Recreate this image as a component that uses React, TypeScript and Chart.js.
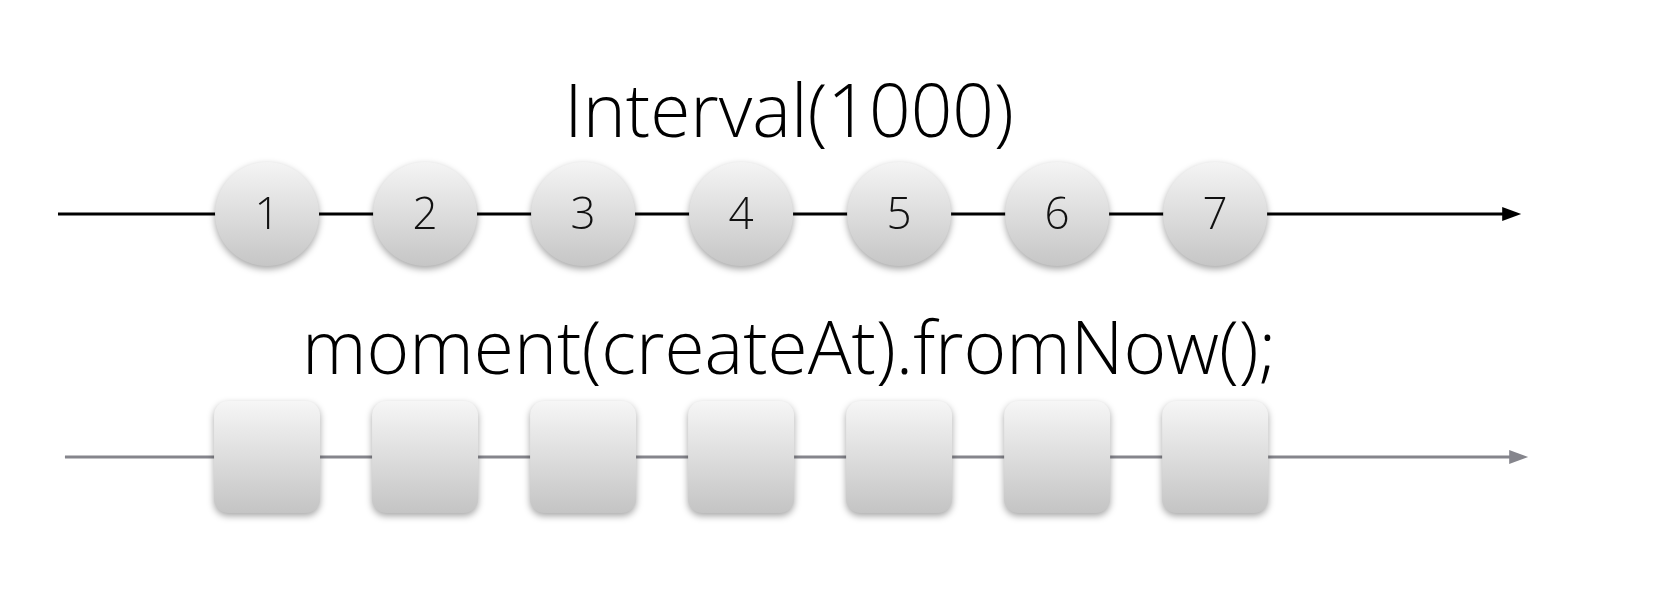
import React, { useEffect, useRef } from "react";
import { Chart, registerables } from "chart.js";
Chart.register(...registerables);

const marbleTimes = [1, 2, 3, 4, 5, 6, 7];
const marbleLabels = ["1", "2", "3", "4", "5", "6", "7"];
const rowTitles = ["Interval(1000)", "moment(createAt).fromNow();"];
const rows = [0, 1];

const X_MIN = -0.69, X_MAX = 9.79, Y_MIN = -0.881, Y_MAX = 1.646;
const lineExt = [[-0.323, 8.937], [-0.279, 8.981]];
const lineColors = ["#000000", "#85858c"];

const marblePlugin = {
  id: "marbles",
  afterDatasetsDraw(chart: any) {
    const ctx = chart.ctx;
    const xs = chart.scales.x, ys = chart.scales.y;
    rows.forEach((r) => {
      const y = ys.getPixelForValue(r);
      const x0 = xs.getPixelForValue(lineExt[r][0]);
      const x1 = xs.getPixelForValue(lineExt[r][1]);
      ctx.save();
      ctx.strokeStyle = lineColors[r];
      ctx.fillStyle = lineColors[r];
      ctx.lineWidth = 3;
      ctx.beginPath(); ctx.moveTo(x0, y); ctx.lineTo(x1 - 16, y); ctx.stroke();
      ctx.beginPath(); ctx.moveTo(x1, y); ctx.lineTo(x1 - 19, y - 7); ctx.lineTo(x1 - 19, y + 7); ctx.closePath(); ctx.fill();
      const cx = xs.getPixelForValue((marbleTimes[0] + marbleTimes[marbleTimes.length - 1]) / 2);
      ctx.fillStyle = "#000";
      ctx.font = "300 73px 'Open Sans', 'Liberation Sans', sans-serif";
      ctx.textAlign = "center"; ctx.textBaseline = "middle";
      ctx.fillText(rowTitles[r], cx + 48, y - (r === 0 ? 98 : 104));
      marbleTimes.forEach((t, i) => {
        const px = xs.getPixelForValue(t);
        ctx.save();
        ctx.shadowColor = "rgba(0,0,0,0.35)";
        ctx.shadowBlur = 7; ctx.shadowOffsetY = 3;
        const g = ctx.createLinearGradient(0, y - 56, 0, y + 56);
        g.addColorStop(0, "#f6f6f6"); g.addColorStop(1, "#c4c4c4");
        ctx.fillStyle = g;
        ctx.beginPath();
        if (r === 0) {
          ctx.arc(px, y, 52, 0, Math.PI * 2);
        } else {
          const w = 106, h = 112, rr = 14;
          (ctx as any).roundRect(px - w / 2, y - h / 2, w, h, rr);
        }
        ctx.fill();
        ctx.restore();
        if (r === 0) {
          ctx.fillStyle = "#111";
          ctx.font = "300 44px 'Open Sans', 'Liberation Sans', sans-serif";
          ctx.textAlign = "center"; ctx.textBaseline = "middle";
          ctx.fillText(marbleLabels[i], px, y + 2);
        }
      });
      ctx.restore();
    });
  },
};

export default function App() {
  const ref = useRef<HTMLCanvasElement>(null);
  useEffect(() => {
    const chart = new Chart(ref.current!, {
      type: "scatter",
      data: {
        datasets: rows.map((r) => ({
          data: marbleTimes.map((t) => ({ x: t, y: r })),
          pointRadius: 0,
          showLine: false,
        })),
      },
      options: {
        animation: false,
        responsive: false,
        layout: { padding: 0 },
        plugins: { legend: { display: false }, tooltip: { enabled: false } },
        scales: {
          x: { type: "linear", min: X_MIN, max: X_MAX, display: false },
          y: { type: "linear", min: Y_MIN, max: Y_MAX, reverse: true, display: false },
        },
      },
      plugins: [marblePlugin],
    });
    return () => chart.destroy();
  }, []);
  return (
    <div style={{ position: "fixed", left: 0, top: 0, width: 1656, height: 614, background: "#fff" }}>
      <canvas ref={ref} width={1656} height={614} style={{ width: 1656, height: 614 }} />
    </div>
  );
}
